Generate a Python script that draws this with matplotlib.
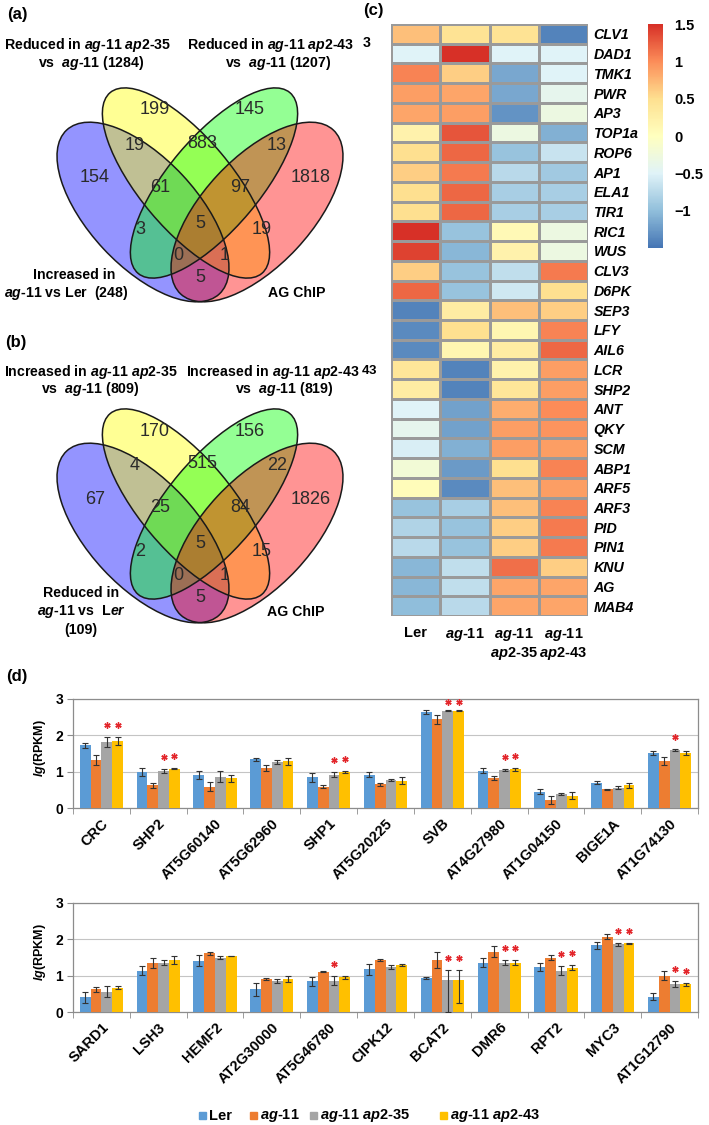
import numpy as np
import matplotlib
matplotlib.use('Agg')
import matplotlib.pyplot as plt
from matplotlib.patches import Ellipse, Rectangle
from matplotlib.colors import LinearSegmentedColormap

plt.rcParams['font.family'] = ['Liberation Sans', 'DejaVu Sans']
plt.rcParams['mathtext.fontset'] = 'custom'
plt.rcParams['mathtext.it'] = 'Liberation Sans:italic:bold'
plt.rcParams['mathtext.rm'] = 'Liberation Sans:bold'
plt.rcParams['mathtext.bf'] = 'Liberation Sans:bold'

W, H = 709, 1125

# ---------------- data ----------------
# venn regions: A, B, C, D, AB, BC, CD, ABC, BCD, AC, ABCD, BD, ACD, ABD, AD
venn_a_counts = [154, 199, 145, 1818, 19, 883, 13, 61, 97, 3, 5, 19, 0, 1, 5]
venn_b_counts = [67, 170, 156, 1826, 4, 515, 22, 25, 84, 2, 5, 15, 0, 1, 5]
venn_a_sizes = [248, 1284, 1207]
venn_b_sizes = [109, 809, 819]

heat_genes = ['CLV1', 'DAD1', 'TMK1', 'PWR', 'AP3', 'TOP1a', 'ROP6', 'AP1', 'ELA1', 'TIR1',
              'RIC1', 'WUS', 'CLV3', 'D6PK', 'SEP3', 'LFY', 'AIL6', 'LCR', 'SHP2', 'ANT',
              'QKY', 'SCM', 'ABP1', 'ARF5', 'ARF3', 'PID', 'PIN1', 'KNU', 'AG', 'MAB4']
heat_ler = [0.7, -0.5, 1.05, 0.9, 0.85, 0.2, 0.5, 0.6, 0.5, 0.5, 1.5, 1.4, 0.6, 1.2, -1.4,
            -1.35, -1.35, 0.4, 0.3, -0.5, -0.4, -0.55, -0.2, 0.05, -0.95, -0.8, -0.75, -1.05, -1.05, -1.0]
heat_ag11 = [0.45, 1.5, 0.6, 0.85, 0.9, 1.3, 1.2, 1.1, 1.2, 1.2, -0.95, -1.05, -0.95, -0.95, 0.3,
             0.5, 0.15, -1.4, -1.4, -1.2, -1.2, -1.1, -1.25, -1.35, -0.85, -0.95, -0.95, -0.7, -0.7, -0.75]
heat_ap235 = [0.45, -0.5, -1.15, -1.15, -1.3, -0.3, -0.95, -0.75, -0.85, -0.85, 0.1, 0.2, -0.7, -0.6, 0.7,
              0.15, 0.3, 0.2, 0.4, 0.8, 0.9, 0.9, 0.5, 0.7, 0.7, 0.6, 0.6, 1.15, 0.85, 0.85]
heat_ap243 = [-1.4, -0.5, -0.5, -0.4, -0.3, -1.1, -0.65, -0.9, -0.85, -0.85, -0.3, -0.3, 1.1, 0.5, 0.6,
              1.05, 1.2, 0.9, 0.9, 1.0, 0.95, 0.9, 1.05, 0.9, 1.05, 1.1, 1.1, 0.6, 0.85, 0.85]

top_genes = ['CRC', 'SHP2', 'AT5G60140', 'AT5G62960', 'SHP1', 'AT5G20225', 'SVB',
             'AT4G27980', 'AT1G04150', 'BIGE1A', 'AT1G74130']
top_ler = [1.73, 0.99, 0.90, 1.34, 0.84, 0.91, 2.65, 1.03, 0.45, 0.70, 1.51]
top_ler_err = [0.07, 0.10, 0.11, 0.04, 0.13, 0.07, 0.06, 0.08, 0.07, 0.03, 0.06]
top_ag11 = [1.31, 0.62, 0.59, 1.09, 0.59, 0.65, 2.44, 0.82, 0.22, 0.51, 1.29]
top_ag11_err = [0.14, 0.06, 0.12, 0.08, 0.05, 0.05, 0.12, 0.05, 0.10, 0.02, 0.12]
top_ap235 = [1.82, 1.02, 0.86, 1.26, 0.92, 0.77, 2.68, 1.05, 0.38, 0.56, 1.60]
top_ap235_err = [0.14, 0.05, 0.15, 0.06, 0.07, 0.02, 0.02, 0.02, 0.03, 0.05, 0.03]
top_ap243 = [1.84, 1.08, 0.82, 1.28, 0.99, 0.75, 2.68, 1.07, 0.34, 0.62, 1.51]
top_ap243_err = [0.11, 0.02, 0.10, 0.09, 0.03, 0.09, 0.02, 0.04, 0.10, 0.06, 0.06]
top_star_35 = ['CRC', 'SHP2', 'SHP1', 'SVB', 'AT4G27980', 'AT1G74130']
top_star_43 = ['CRC', 'SHP2', 'SHP1', 'SVB', 'AT4G27980']

bot_genes = ['SARD1', 'LSH3', 'HEMF2', 'AT2G30000', 'AT5G46780', 'CIPK12', 'BCAT2',
             'DMR6', 'RPT2', 'MYC3', 'AT1G12790']
bot_ler = [0.40, 1.14, 1.41, 0.62, 0.84, 1.17, 0.93, 1.36, 1.23, 1.84, 0.42]
bot_ler_err = [0.15, 0.12, 0.15, 0.18, 0.13, 0.15, 0.03, 0.12, 0.11, 0.10, 0.10]
bot_ag11 = [0.62, 1.34, 1.62, 0.91, 1.11, 1.43, 1.43, 1.66, 1.50, 2.07, 1.00]
bot_ag11_err = [0.07, 0.14, 0.04, 0.02, 0.02, 0.04, 0.22, 0.15, 0.08, 0.07, 0.12]
bot_ap235 = [0.56, 1.36, 1.50, 0.86, 0.86, 1.23, 0.87, 1.36, 1.14, 1.87, 0.77]
bot_ap235_err = [0.15, 0.08, 0.05, 0.06, 0.12, 0.05, 0.29, 0.07, 0.12, 0.04, 0.07]
bot_ap235_err_lo = [0.15, 0.08, 0.05, 0.06, 0.12, 0.05, 0.87, 0.07, 0.12, 0.04, 0.07]
bot_ap243 = [0.67, 1.43, 1.54, 0.91, 0.95, 1.29, 0.88, 1.36, 1.22, 1.89, 0.76]
bot_ap243_err = [0.04, 0.10, 0.01, 0.08, 0.04, 0.03, 0.28, 0.07, 0.07, 0.01, 0.04]
bot_ap243_err_lo = [0.04, 0.10, 0.01, 0.08, 0.04, 0.03, 0.64, 0.07, 0.07, 0.01, 0.04]
bot_star_35 = ['AT5G46780', 'BCAT2', 'DMR6', 'RPT2', 'MYC3', 'AT1G12790']
bot_star_43 = ['BCAT2', 'DMR6', 'RPT2', 'MYC3', 'AT1G12790']

# ---------------- layout / style ----------------
ELLIPSES = [(143, 212, 112, 54, 47), (186, 183, 118, 46, 50),
            (214, 183, 118, 46, -50), (257, 212, 112, 54, -47)]
VENN_COLORS = ['#0000ff', '#ffff00', '#00ff00', '#ff0000']
REGION_XY = [(95, 178), (155, 110), (250, 110), (311, 178), (135, 145), (202, 143),
             (277, 145), (160, 187), (240, 187), (140, 230), (200, 223), (262, 230),
             (178, 255), (225, 255), (200, 277)]
BAR_COLORS = ['#5b9bd5', '#ed7d31', '#a5a5a5', '#ffc000']
STAR_COLOR = '#e3262b'
GRAY = '#8c8c8c'


def it(s):
    return '-'.join(r'$\mathit{%s}$' % p for p in s.split('-'))


fig = plt.figure(figsize=(W / 100, H / 100), dpi=100)


def px_axes(x0, y0, x1, y1):
    return fig.add_axes([x0 / W, 1 - y1 / H, (x1 - x0) / W, (y1 - y0) / H])


ov = fig.add_axes([0, 0, 1, 1])
ov.set_xlim(0, W)
ov.set_ylim(H, 0)
ov.axis('off')


def btext(x, y, s, size=10.2, **kw):
    ov.text(x, y, s, fontsize=size, fontweight='bold', ha='center', va='center', **kw)


def venn(dy, counts):
    for (cx, cy, a, b, ang), col in zip(ELLIPSES, VENN_COLORS):
        ov.add_patch(Ellipse((cx, cy + dy), 2 * a, 2 * b, angle=ang, facecolor=col,
                             alpha=0.42, lw=0))
    for (cx, cy, a, b, ang) in ELLIPSES:
        ov.add_patch(Ellipse((cx, cy + dy), 2 * a, 2 * b, angle=ang, fill=False,
                             edgecolor='#1a1a1a', lw=1.1))
    for (x, y), n in zip(REGION_XY, counts):
        ov.text(x, y + dy, str(n), ha='center', va='center', fontsize=13, color='#2a2a2a')


# panel (a)
venn(0, venn_a_counts)
btext(17, 15, '(a)', 12)
btext(88, 45, 'Reduced in ' + it('ag-11') + ' ' + it('ap2-35'))
btext(91, 63, 'vs  ' + it('ag-11') + ' (%d)' % venn_a_sizes[1])
btext(271, 45, 'Reduced in ' + it('ag-11') + ' ' + it('ap2-43'))
btext(278, 63, 'vs  ' + it('ag-11') + ' (%d)' % venn_a_sizes[2])
btext(74, 275, 'Increased in')
btext(66, 293, it('ag-11') + ' vs Ler  (%d)' % venn_a_sizes[0])
btext(297, 293, 'AG ChIP')

# panel (b)
venn(321, venn_b_counts)
btext(16, 343, '(b)', 12)
btext(91, 372, 'Increased in ' + it('ag-11') + ' ' + it('ap2-35'))
btext(90, 389, 'vs  ' + it('ag-11') + ' (%d)' % venn_b_sizes[1])
btext(273, 372, 'Increased in ' + it('ag-11') + ' ' + it('ap2-43'))
btext(284, 389, 'vs  ' + it('ag-11') + ' (%d)' % venn_b_sizes[2])
btext(81, 593, 'Reduced in')
btext(82, 612, it('ag-11') + ' vs  L' + it('er'))
btext(81, 630, '(%d)' % venn_b_sizes[0])
btext(296, 612, 'AG ChIP')

# panel (c) heatmap
btext(373, 11, '(c)', 12)
btext(367, 43, it('3'))
btext(369, 370, it('43'), size=9.5)
cmap = LinearSegmentedColormap.from_list(
    'rdylbu', ['#4575b4', '#91bfdb', '#e0f3f8', '#ffffbf', '#fee090', '#fc8d59', '#d73027'])
hax = px_axes(391, 24, 588, 616)
mat = np.array([heat_ler, heat_ag11, heat_ap235, heat_ap243]).T
mesh = hax.pcolormesh(mat, cmap=cmap, vmin=-1.5, vmax=1.5, edgecolors='#9a9a9a', linewidth=0.8)
hax.set_xlim(0, 4)
hax.set_ylim(len(heat_genes), 0)
hax.yaxis.tick_right()
hax.set_yticks(np.arange(len(heat_genes)) + 0.5)
hax.set_yticklabels(heat_genes, fontsize=10.3, fontweight='bold', fontstyle='italic')
hax.set_xticks(np.arange(4) + 0.5)
hax.set_xticklabels(['Ler', it('ag-11'), it('ag-11') + '\n' + it('ap2-35'),
                     it('ag-11') + '\n' + it('ap2-43')], fontsize=10.5, fontweight='bold')
hax.tick_params(axis='y', length=0, pad=4)
hax.tick_params(axis='x', length=0, pad=7)
for s in hax.spines.values():
    s.set_visible(False)

cax = px_axes(648, 24, 663, 248)
cb = fig.colorbar(mesh, cax=cax)
cb.outline.set_visible(False)
cb.set_ticks([1.5, 1, 0.5, 0, -0.5, -1])
cb.set_ticklabels(['1.5', '1', '0.5', '0', '\u22120.5', '\u22121'])
cax.tick_params(length=0, pad=8)
for lab in cax.get_yticklabels():
    lab.set_fontsize(10.5)
    lab.set_fontweight('bold')


# panel (d) bar charts
def bar_panel(box, genes, series, star35, star43):
    ax = px_axes(*box)
    x = np.arange(len(genes))
    w = 0.19
    for k, (vals, lo, hi) in enumerate(series):
        ax.bar(x + (k - 1.5) * w, vals, w, color=BAR_COLORS[k], yerr=[lo, hi], capsize=2.5,
               error_kw=dict(ecolor='#333333', elinewidth=0.8, capthick=0.8), zorder=3)
    for k, names in ((2, star35), (3, star43)):
        vals, lo, hi = series[k]
        for g in names:
            i = genes.index(g)
            y = min(vals[i] + hi[i] + 0.33, 2.93)
            ax.plot(i + (k - 1.5) * w, y, marker=(6, 2, 0), ms=4.5, mew=1.0,
                    color=STAR_COLOR, zorder=4)
    ax.set_xlim(-0.5, len(genes) - 0.5)
    ax.set_ylim(0, 3)
    ax.set_yticks([0, 1, 2, 3])
    ax.set_yticklabels(['0', '1', '2', '3'], fontsize=10, fontweight='bold')
    ax.yaxis.grid(True, color='#c4c4c4', lw=0.8)
    ax.set_axisbelow(True)
    for s in ax.spines.values():
        s.set_color(GRAY)
        s.set_linewidth(0.9)
    ax.set_xticks(x)
    ax.set_xticklabels(genes, rotation=45, ha='right', rotation_mode='anchor',
                       fontsize=10.5, fontweight='bold')
    ax.set_xticks(np.arange(len(genes) + 1) - 0.5, minor=True)
    ax.tick_params(axis='x', which='major', length=0, pad=6)
    ax.tick_params(axis='x', which='minor', length=4, color=GRAY)
    ax.tick_params(axis='y', length=4, color=GRAY, pad=3)
    ax.set_ylabel(r'$\mathit{lg}$(RPKM)', fontsize=9, fontweight='bold')
    ax.yaxis.set_label_coords(-0.04, 0.55)
    return ax


btext(17, 677, '(d)', 12)
bar_panel((73, 699, 698, 808), top_genes,
          [(top_ler, top_ler_err, top_ler_err), (top_ag11, top_ag11_err, top_ag11_err),
           (top_ap235, top_ap235_err, top_ap235_err), (top_ap243, top_ap243_err, top_ap243_err)],
          top_star_35, top_star_43)
bar_panel((73, 903, 698, 1012), bot_genes,
          [(bot_ler, bot_ler_err, bot_ler_err), (bot_ag11, bot_ag11_err, bot_ag11_err),
           (bot_ap235, bot_ap235_err_lo, bot_ap235_err), (bot_ap243, bot_ap243_err_lo, bot_ap243_err)],
          bot_star_35, bot_star_43)

# legend
leg_labels = ['Ler', it('ag-11'), it('ag-11') + ' ' + it('ap2-35'), it('ag-11') + ' ' + it('ap2-43')]
leg_x = [199, 250, 310, 440]
for xl, lab, col in zip(leg_x, leg_labels, BAR_COLORS):
    ov.add_patch(Rectangle((xl, 1112), 7, 7, color=col))
    ov.text(xl + 10, 1116, lab, fontsize=10.5, fontweight='bold', ha='left', va='center')

fig.savefig('out.png', dpi=100)
